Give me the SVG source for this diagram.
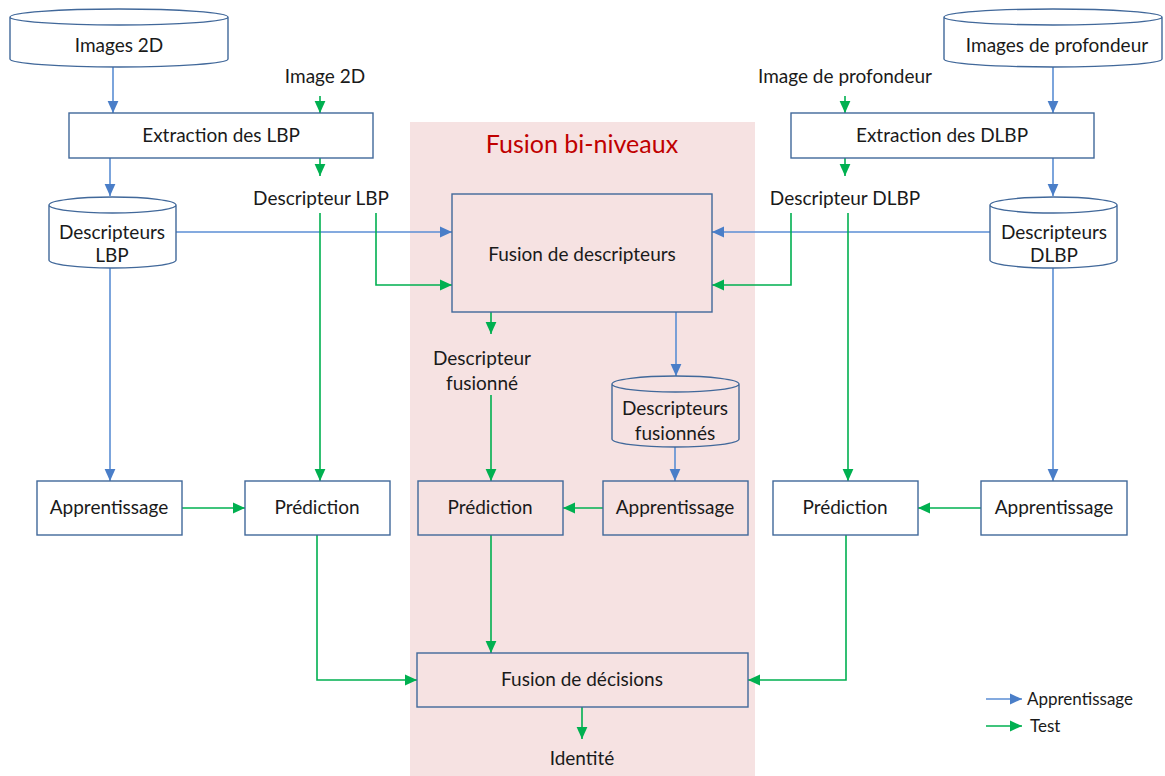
<svg xmlns="http://www.w3.org/2000/svg" width="1165" height="776" viewBox="0 0 1165 776">
<defs>
<style>
.box{fill:none;stroke:#41689a;stroke-width:1.4}
.t{font-family:Lato,"Liberation Sans",sans-serif;font-size:19px;fill:#1a1a1a;text-anchor:middle}
.b{fill:none;stroke:#5b8ed4;stroke-width:1.6}
.g{fill:none;stroke:#00b050;stroke-width:1.6}
.ba{marker-end:url(#ab)}
.ga{marker-end:url(#ag)}
</style>
<marker id="ab" markerUnits="userSpaceOnUse" markerWidth="12" markerHeight="12" viewBox="0 0 10 10" refX="10" refY="5" orient="auto"><path d="M0,0.5 L10,5 L0,9.5 Z" fill="#4a7ec8"/></marker>
<marker id="ag" markerUnits="userSpaceOnUse" markerWidth="12" markerHeight="12" viewBox="0 0 10 10" refX="10" refY="5" orient="auto"><path d="M0,0.5 L10,5 L0,9.5 Z" fill="#00b050"/></marker>
</defs>
<rect width="1165" height="776" fill="#fff"/>
<rect id="fusion-zone" x="410" y="122" width="345" height="654" fill="#f6e2e2"/>
<text x="582" y="153" font-family="Lato,'Liberation Sans',sans-serif" font-size="25" fill="#c00000" text-anchor="middle">Fusion bi-niveaux</text>

<g id="connectors">
<path class="b ba" d="M113,67 V113"/>
<path class="b ba" d="M110,158 V196"/>
<path class="b ba" d="M176,232 H452"/>
<path class="b ba" d="M110,268 V481"/>
<path class="b ba" d="M1053,67 V113"/>
<path class="b ba" d="M1053,158 V196"/>
<path class="b ba" d="M990,232 H712"/>
<path class="b ba" d="M1053,268 V481"/>
<path class="b ba" d="M676,312 V376"/>
<path class="b ba" d="M675,447 V481"/>
<path class="g ga" d="M320,96 V113"/>
<path class="g ga" d="M320,158 V176"/>
<path class="g ga" d="M320,213 V481"/>
<path class="g ga" d="M376,213 V285 H452"/>
<path class="g ga" d="M845,96 V113"/>
<path class="g ga" d="M845,158 V176"/>
<path class="g ga" d="M848,213 V481"/>
<path class="g ga" d="M791,213 V285 H712"/>
<path class="g ga" d="M491,312 V334"/>
<path class="g ga" d="M491,395 V481"/>
<path class="g ga" d="M182,508 H245"/>
<path class="g ga" d="M603,508 H563"/>
<path class="g ga" d="M981,508 H918"/>
<path class="g ga" d="M317,535 V680 H417"/>
<path class="g ga" d="M846,535 V680 H748"/>
<path class="g ga" d="M491,535 V653"/>
<path class="g ga" d="M582,707 V739"/>
</g>

<g id="images-2d">
<path class="box" d="M10,17 A109,8 0 0 1 228,17 V59 A109,8 0 0 1 10,59 Z M10,17 A109,8 0 0 0 228,17"/>
<text class="t" x="119" y="52">Images 2D</text>
</g>
<g id="images-profondeur">
<path class="box" d="M944,17 A109,8 0 0 1 1162,17 V59 A109,8 0 0 1 944,59 Z M944,17 A109,8 0 0 0 1162,17"/>
<text class="t" x="1057" y="52">Images de profondeur</text>
</g>
<g id="label-image-2d"><text class="t" x="325" y="83">Image 2D</text></g>
<g id="label-image-profondeur"><text class="t" x="845" y="83">Image de profondeur</text></g>
<g id="extraction-lbp">
<rect class="box" x="69" y="113" width="304" height="45"/>
<text class="t" x="221" y="142">Extraction des LBP</text>
</g>
<g id="extraction-dlbp">
<rect class="box" x="791" y="113" width="303" height="45"/>
<text class="t" x="942" y="142">Extraction des DLBP</text>
</g>
<g id="label-descripteur-lbp"><text class="t" x="321" y="205">Descripteur LBP</text></g>
<g id="label-descripteur-dlbp"><text class="t" x="845" y="205">Descripteur DLBP</text></g>
<g id="descripteurs-lbp">
<path class="box" d="M49,205 A63.5,8 0 0 1 176,205 V260 A63.5,8 0 0 1 49,260 Z M49,205 A63.5,8 0 0 0 176,205"/>
<text class="t" x="112" y="239">Descripteurs</text>
<text class="t" x="112" y="262">LBP</text>
</g>
<g id="descripteurs-dlbp">
<path class="box" d="M990,205 A63.5,8 0 0 1 1117,205 V260 A63.5,8 0 0 1 990,260 Z M990,205 A63.5,8 0 0 0 1117,205"/>
<text class="t" x="1054" y="239">Descripteurs</text>
<text class="t" x="1054" y="262">DLBP</text>
</g>
<g id="fusion-descripteurs">
<rect class="box" x="452" y="194" width="260" height="118"/>
<text class="t" x="582" y="261">Fusion de descripteurs</text>
</g>
<g id="label-descripteur-fusionne">
<text class="t" x="482" y="365">Descripteur</text>
<text class="t" x="482" y="390">fusionné</text>
</g>
<g id="descripteurs-fusionnes">
<path class="box" d="M612,384 A63.5,8 0 0 1 739,384 V439 A63.5,8 0 0 1 612,439 Z M612,384 A63.5,8 0 0 0 739,384"/>
<text class="t" x="675" y="415">Descripteurs</text>
<text class="t" x="675" y="440">fusionnés</text>
</g>
<g id="apprentissage-lbp">
<rect class="box" x="37" y="481" width="145" height="54"/>
<text class="t" x="109" y="514">Apprentissage</text>
</g>
<g id="prediction-lbp">
<rect class="box" x="245" y="481" width="145" height="54"/>
<text class="t" x="317" y="514">Prédiction</text>
</g>
<g id="prediction-fusion">
<rect class="box" x="418" y="481" width="145" height="54"/>
<text class="t" x="490" y="514">Prédiction</text>
</g>
<g id="apprentissage-fusion">
<rect class="box" x="603" y="481" width="145" height="54"/>
<text class="t" x="675" y="514">Apprentissage</text>
</g>
<g id="prediction-dlbp">
<rect class="box" x="773" y="481" width="145" height="54"/>
<text class="t" x="845" y="514">Prédiction</text>
</g>
<g id="apprentissage-dlbp">
<rect class="box" x="981" y="481" width="146" height="54"/>
<text class="t" x="1054" y="514">Apprentissage</text>
</g>
<g id="fusion-decisions">
<rect class="box" x="417" y="653" width="331" height="54"/>
<text class="t" x="582" y="686">Fusion de décisions</text>
</g>
<g id="label-identite"><text class="t" x="582" y="765">Identité</text></g>
<g id="legend">
<path class="b ba" d="M986,699 H1022"/>
<text x="1027" y="705" font-family="Lato,'Liberation Sans',sans-serif" font-size="17" fill="#1a1a1a">Apprentissage</text>
<path class="g ga" d="M986,726 H1022"/>
<text x="1030" y="732" font-family="Lato,'Liberation Sans',sans-serif" font-size="17" fill="#1a1a1a">Test</text>
</g>
</svg>
